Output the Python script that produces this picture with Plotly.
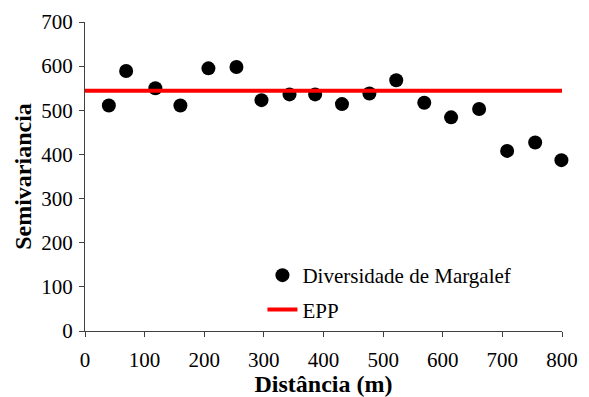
import plotly.graph_objects as go

# Lag distances (m) and experimental semivariance values
distancia = [40, 69, 118, 160, 207, 254, 296, 343, 386, 431, 477, 522, 569, 614, 661, 708, 755, 799]
semivariancia = [511, 589, 550, 511, 595, 598, 523, 536, 536, 514, 538, 568, 517, 484, 503, 408, 427, 387]

# Pure nugget (EPP) model level
epp_x = [0, 800]
epp_y = [544, 544]

x_ticks = [0, 100, 200, 300, 400, 500, 600, 700, 800]
y_ticks = [0, 100, 200, 300, 400, 500, 600, 700]

serif = "Liberation Serif"

fig = go.Figure()
fig.add_trace(go.Scatter(
    x=distancia, y=semivariancia, mode="markers",
    name="Diversidade de Margalef",
    marker=dict(color="black", size=14),
    legendgroup="a", cliponaxis=False,
))
fig.add_trace(go.Scatter(
    x=epp_x, y=epp_y, mode="lines",
    name="EPP",
    line=dict(color="#ff0000", width=4),
    legendgroup="b",
))

axis_common = dict(
    showgrid=False, zeroline=False, automargin=False,
    showline=True, linecolor="#404040", linewidth=1,
    ticks="outside", ticklen=5, tickcolor="#404040", tickwidth=1,
    tickfont=dict(family=serif, size=21, color="black"),
)

fig.update_layout(
    width=589, height=397,
    margin=dict(l=85, r=27, t=22, b=66),
    paper_bgcolor="white", plot_bgcolor="white",
    font=dict(family=serif, color="black"),
    xaxis=dict(
        range=[0, 800], tickvals=x_ticks, ticklabelstandoff=5,
        title=dict(text="<b>Distância (m)</b>", font=dict(family=serif, size=24), standoff=3),
        **axis_common,
    ),
    yaxis=dict(
        range=[0, 700], tickvals=y_ticks, ticklabelstandoff=2,
        title=dict(text="<b>Semivariancia</b>", font=dict(family=serif, size=24), standoff=2),
        **axis_common,
    ),
    legend=dict(
        x=0.372, y=0.246, xanchor="left", yanchor="top",
        font=dict(family=serif, size=21, color="black"),
        bgcolor="rgba(0,0,0,0)", tracegroupgap=4,
    ),
    showlegend=True,
)

fig.write_html("out.html")
